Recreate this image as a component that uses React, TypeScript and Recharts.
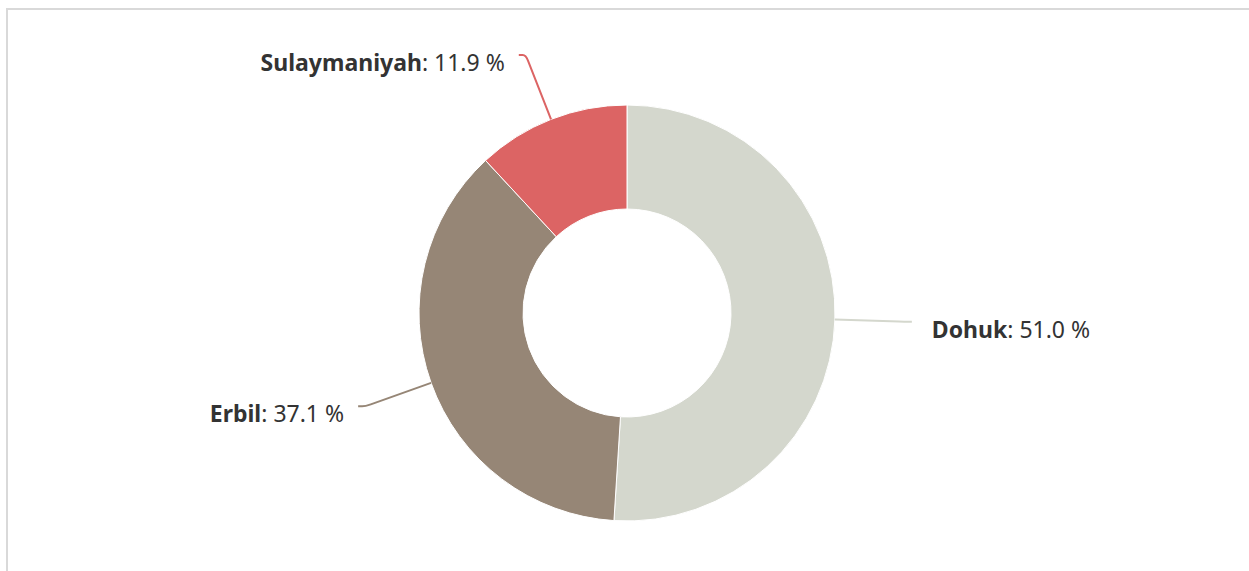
import React from "react";
import { PieChart, Pie, Cell } from "recharts";

const categories = ["Dohuk", "Erbil", "Sulaymaniyah"];
const shares = [51.0, 37.1, 11.9];
const colors = ["#d4d7cd", "#968676", "#dc6464"];

const data = categories.map((name, i) => ({ name, value: shares[i] }));

const RAD = Math.PI / 180;
const CORNER_R = 278;
const MIN_LABEL_Y = 55;
const FONT = "'Noto Sans', 'Open Sans', sans-serif";

const renderLabel = (props: any) => {
  const { cx, cy, midAngle, outerRadius, name, value, index } = props;
  const c = Math.cos(-midAngle * RAD);
  const s = Math.sin(-midAngle * RAD);
  const color = colors[index % colors.length];
  const tx = cx + outerRadius * c;
  const ty = cy + outerRadius * s;
  let r = CORNER_R;
  let cornerY = cy + r * s;
  if (cornerY < MIN_LABEL_Y) {
    cornerY = MIN_LABEL_Y;
    r = (cornerY - cy) / s;
  }
  const cornerX = cx + r * c;
  const right = c >= 0;
  const dir = right ? 1 : -1;
  const endX = cornerX + dir * 7;
  const endY = cornerY;
  const p1x = cornerX + dir * 3;
  const p2x = cornerX - 6 * c;
  const p2y = cornerY - 6 * s;
  const path = `M${endX},${endY} L${p1x},${endY} Q${cornerX},${cornerY} ${p2x},${p2y} L${tx},${ty}`;
  const textX = right ? endX + 20 : endX - 14;
  return (
    <g>
      <path d={path} stroke={color} strokeWidth={2} fill="none" />
      <text
        x={textX}
        y={endY + 16}
        textAnchor={right ? "start" : "end"}
        fontFamily={FONT}
        fontSize={23}
        fill="#333333"
      >
        <tspan fontWeight="bold">{name}</tspan>
        <tspan>: {value.toFixed(1)} %</tspan>
      </text>
    </g>
  );
};

export default function App() {
  return (
    <div
      style={{
        position: "absolute",
        left: 0,
        top: 0,
        width: 1249,
        height: 571,
        overflow: "hidden",
        background: "#ffffff",
      }}
    >
      <div
        style={{
          position: "absolute",
          left: 6,
          top: 8,
          width: 1260,
          height: 580,
          borderLeft: "2px solid #d9d9d9",
          borderTop: "2px solid #d9d9d9",
        }}
      />
      <div style={{ position: "absolute", left: 0, top: 0 }}>
        <PieChart width={1249} height={571} margin={{ top: 0, right: 0, bottom: 0, left: 0 }}>
          <Pie
            data={data}
            dataKey="value"
            nameKey="name"
            cx={627}
            cy={313}
            innerRadius={104}
            outerRadius={208}
            startAngle={90}
            endAngle={-270}
            stroke="#ffffff"
            strokeWidth={1}
            label={renderLabel}
            labelLine={false}
            isAnimationActive={false}
          >
            {data.map((d, i) => (
              <Cell key={d.name} fill={colors[i]} />
            ))}
          </Pie>
        </PieChart>
      </div>
    </div>
  );
}
